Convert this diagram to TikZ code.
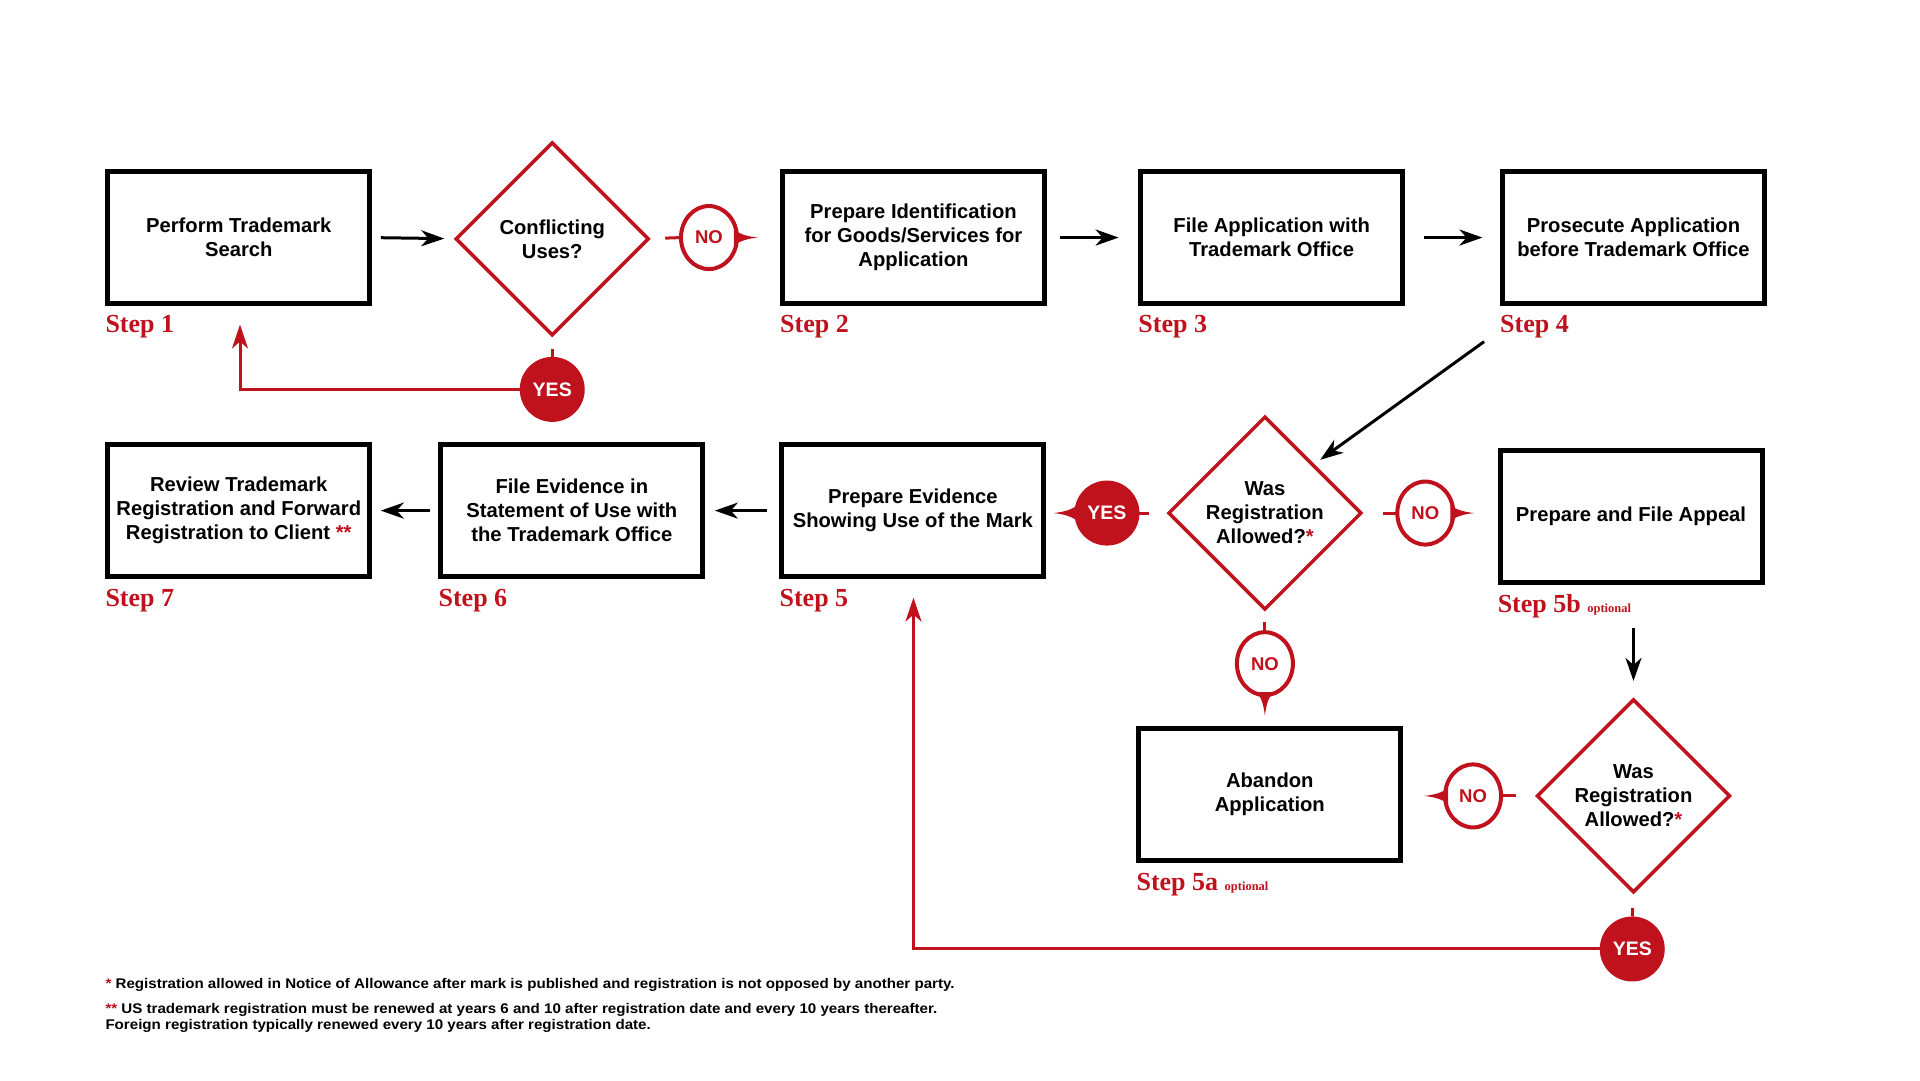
\documentclass[tikz,border=0pt]{standalone}
\usepackage{fontspec}
\setmainfont{Liberation Sans}
\newfontfamily\tmserif{Liberation Serif}
\newfontfamily\tmfootfam[FakeStretch=1.08]{Liberation Sans}
\usetikzlibrary{shapes.geometric,arrows.meta,calc}
\definecolor{tmred}{RGB}{192,18,28}
\newcommand\tmbox{\bfseries\fontsize{20.2}{24}\selectfont}
\newcommand\tmno{\bfseries\fontsize{18.5}{20}\selectfont}
\newcommand\tmyes{\bfseries\fontsize{19.5}{20}\selectfont}
\newcommand\tmstep{\tmserif\bfseries\fontsize{26}{28}\selectfont}
\newcommand\tmopt{\tmserif\bfseries\fontsize{12.5}{14}\selectfont}
\newcommand\tmfoot{\tmfootfam\bfseries\fontsize{14}{16}\selectfont}
\tikzset{
 box/.style={draw=black, line width=5pt, minimum width=262pt, minimum height=132pt, inner sep=2pt, align=center, font=\tmbox, outer sep=0pt},
 dia/.style={diamond, draw=tmred, line width=3.5pt, minimum width=192pt, minimum height=192pt, inner sep=0pt, aspect=1, align=center, font=\tmbox, outer sep=0pt},
 nobadge/.style={ellipse, draw=tmred, fill=white, line width=4pt, minimum width=56pt, minimum height=63pt, inner sep=0pt, font=\tmno, text=tmred, outer sep=0pt},
 yesbadge/.style={circle, fill=tmred, minimum size=65pt, inner sep=0pt, font=\tmyes, text=white, outer sep=0pt},
 steplbl/.style={anchor=base west, inner sep=0pt, font=\tmstep, text=tmred},
 foot/.style={anchor=base west, inner sep=0pt, font=\tmfoot, text=black},
 barrow/.style={draw=black, line width=3pt, -{Stealth[length=23pt,width=16pt,inset=7pt]}},
 rline/.style={draw=tmred, line width=3pt},
 rarrow/.style={rline, -{Stealth[length=24pt,width=16pt,inset=7pt]}},
 spike/.pic={\fill[tmred] (-3pt,8pt) .. controls (3pt,3pt) and (12pt,0.9pt) .. (21pt,0pt) .. controls (12pt,-0.9pt) and (3pt,-3pt) .. (-3pt,-8pt) -- cycle;},
}
\begin{document}
\begin{tikzpicture}[x=1.2245pt,y=-1.2245pt]
\fill[white] (0,0) rectangle (1568,882);
\useasboundingbox (0,0) rectangle (1568,882);

% row 1
\node[box] (b1) at (195,194) {Perform Trademark\\Search};
\node[dia] (d1) at (451,195) {Conflicting\\Uses?};
\node[nobadge] (no1) at (579,194) {NO};
\node[box] (b2) at (746,194) {Prepare Identification\\for Goods/Services for\\Application};
\node[box] (b3) at (1038.5,194) {File Application with\\Trademark Office};
\node[box] (b4) at (1334,194) {Prosecute Application\\before Trademark Office};
\node[yesbadge] (yes1) at (451,318) {YES};

% row 2
\node[box] (b7) at (195,417) {Review Trademark\\Registration and Forward\\Registration to Client \textcolor{tmred}{**}};
\node[box] (b6) at (467,417) {File Evidence in\\Statement of Use with\\the Trademark Office};
\node[box] (b5) at (745.5,417) {Prepare Evidence\\Showing Use of the Mark};
\node[yesbadge] (yes2) at (904,419) {YES};
\node[dia] (d2) at (1033,419) {Was\\Registration\\Allowed?\textcolor{tmred}{*}};
\node[nobadge] (no2) at (1164,419) {NO};
\node[box] (b5b) at (1332,422) {Prepare and File Appeal};

% row 3
\node[nobadge] (no3) at (1033,542) {NO};
\node[box] (b5a) at (1037,649) {Abandon\\Application};
\node[dia] (d3) at (1334,650) {Was\\Registration\\Allowed?\textcolor{tmred}{*}};
\node[nobadge] (no4) at (1203,650) {NO};
\node[yesbadge] (yes3) at (1333,775) {YES};

% step labels
\node[steplbl] (l1) at ($(b1.south west)+(-2,24)$) {Step 1};
\node[steplbl] (l2) at ($(b2.south west)+(-2,24)$) {Step 2};
\node[steplbl] (l3) at ($(b3.south west)+(-2,24)$) {Step 3};
\node[steplbl] (l4) at ($(b4.south west)+(-2,24)$) {Step 4};
\node[steplbl] (l7) at ($(b7.south west)+(-2,24)$) {Step 7};
\node[steplbl] (l6) at ($(b6.south west)+(-2,24)$) {Step 6};
\node[steplbl] (l5) at ($(b5.south west)+(-2,24)$) {Step 5};
\node[steplbl] (l5b) at ($(b5b.south west)+(-2,24)$) {Step 5b {\tmopt optional}};
\node[steplbl] (l5a) at ($(b5a.south west)+(-2,24)$) {Step 5a {\tmopt optional}};

% coordinates for free ends
\coordinate (s1t) at (196,265);
\coordinate (s5t) at (746,488);
\coordinate (c4) at (1212,279);

% black arrows
\draw[barrow, shorten <=11pt, shorten >=12pt] (b1.east) -- (d1.west);
\draw[barrow, shorten <=16pt, shorten >=22pt] (b2.east) -- (b3.west);
\draw[barrow, shorten <=21pt, shorten >=20pt] (b3.east) -- (b4.west);
\draw[barrow, shorten >=9pt] (c4) -- (d2.north east);
\draw[barrow, shorten <=15pt, shorten >=12pt] (b5.west) -- (b6.east);
\draw[barrow, shorten <=11pt, shorten >=11pt] (b6.west) -- (b7.east);
\draw[barrow, shorten <=45pt, shorten >=19pt] (b5b.south -| d3.north) -- (d3.north);

% red stubs
\draw[rline, shorten <=17pt] (d1.east) -- (no1.west);
\draw[rline, shorten <=14pt] (d1.south) -- (yes1.north);
\draw[rline, shorten <=20pt] (d2.west) -- (yes2.east);
\draw[rline, shorten <=22pt] (d2.east) -- (no2.west);
\draw[rline, shorten <=13pt] (d2.south) -- (no3.north);
\draw[rline, shorten <=21pt] (d3.west) -- (no4.east);
\draw[rline, shorten <=16pt] (d3.south) -- (yes3.north);

% red return arrows
\draw[rarrow] (yes1.west) -| (s1t);
\draw[rarrow] (yes3.west) -| (s5t);

% spikes on badges
\pic[rotate=0] at (no1.east) {spike};
\pic[rotate=180] at (yes2.west) {spike};
\pic[rotate=0] at (no2.east) {spike};
\pic[rotate=-90] at (no3.south) {spike};
\pic[rotate=180] at (no4.west) {spike};

% footnotes
\node[foot] (f1) at (86,807) {\textcolor{tmred}{*} Registration allowed in Notice of Allowance after mark is published and registration is not opposed by another party.};
\node[foot] (f2) at (86,828) {\textcolor{tmred}{**} US trademark registration must be renewed at years 6 and 10 after registration date and every 10 years thereafter.};
\node[foot] (f3) at (86,840.5) {Foreign registration typically renewed every 10 years after registration date.};
\end{tikzpicture}
\end{document}
